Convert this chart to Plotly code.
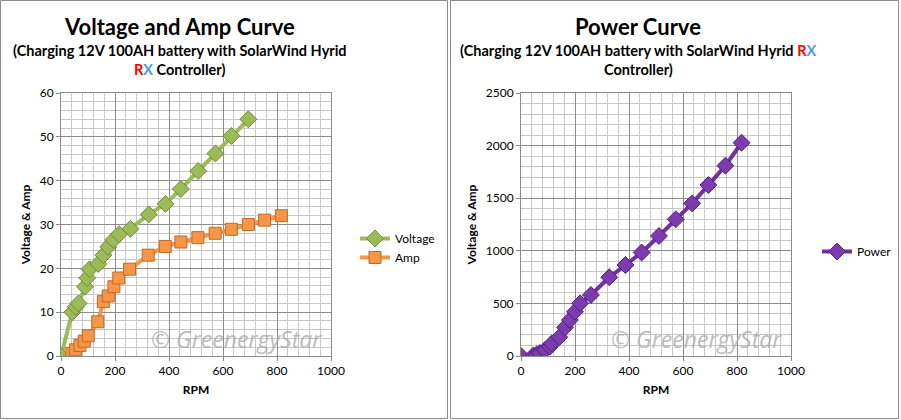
import plotly.graph_objects as go

# ---- data ----
rpm_volt = [0, 42, 55, 65, 89, 97, 106, 138, 157, 175, 194, 215, 257, 325, 387, 444, 508, 572, 631, 694]
voltage = [0, 10.0, 11.2, 12.0, 15.8, 17.8, 19.8, 21.0, 23.0, 24.9, 26.5, 27.8, 29.0, 32.3, 34.7, 38.1, 42.2, 46.2, 50.2, 54.0]
rpm_amp = [40, 54, 70, 86, 101, 136, 157, 175, 196, 214, 254, 323, 386, 444, 507, 571, 631, 694, 754, 816]
amp = [0.6, 1.4, 2.4, 3.4, 4.6, 7.8, 12.4, 13.7, 15.8, 17.8, 19.8, 23.0, 25.0, 26.0, 27.0, 28.0, 28.9, 30.0, 31.0, 32.0]
rpm_power = [0, 46, 58, 70, 89, 107, 114, 142, 163, 181, 200, 219, 259, 327, 387, 447, 511, 573, 634, 694, 757, 817]
power = [0, 5, 15, 28, 57, 88, 120, 178, 272, 342, 421, 501, 580, 748, 865, 984, 1141, 1299, 1451, 1625, 1809, 2027]
x_ticks = [0, 200, 400, 600, 800, 1000]
y1_ticks = [0, 10, 20, 30, 40, 50, 60]
y2_ticks = [0, 500, 1000, 1500, 2000, 2500]

W, H = 901, 420
FONT = "Lato"

fig = go.Figure()
fig.add_trace(go.Scatter(
    x=rpm_volt, y=voltage, name="Voltage", mode="lines+markers",
    line=dict(color="#9bbb59", width=4),
    marker=dict(symbol="diamond", size=13, color="#9bbb59", line=dict(color="#6f8a3a", width=1)),
    xaxis="x", yaxis="y", legend="legend"))
fig.add_trace(go.Scatter(
    x=rpm_amp, y=amp, name="Amp", mode="lines+markers",
    line=dict(color="#f79646", width=4),
    marker=dict(symbol="square", size=12, color="#f79646", line=dict(color="#c0682a", width=1)),
    xaxis="x", yaxis="y", legend="legend"))
fig.add_trace(go.Scatter(
    x=rpm_power, y=power, name="Power", mode="lines+markers",
    line=dict(color="#7030a0", width=4),
    marker=dict(symbol="diamond", size=13, color="#7d3bb0", line=dict(color="#50207a", width=1)),
    xaxis="x2", yaxis="y2", legend="legend2"))

def px(x):
    return x / W

def py(y):
    return 1 - y / H

grid_major = "#8c8c8c"
grid_minor = "#c8c8c8"

def xaxis(domain, anchor):
    return dict(domain=domain, anchor=anchor, range=[0, 1000], tickvals=x_ticks,
                showgrid=True, gridcolor=grid_major, gridwidth=1, automargin=False,
                minor=dict(dtick=40, showgrid=True, gridcolor=grid_minor, ticks=""),
                showline=True, linecolor=grid_major, mirror=True, ticks="outside", ticklen=4,
                tickcolor=grid_major, zeroline=False,
                tickfont=dict(family=FONT, size=12, color="#000"),
                title=dict(text="<b>RPM</b>", font=dict(family=FONT, size=12, color="#000"), standoff=8))

def yaxis(domain, anchor, rng, ticks, minor):
    return dict(domain=domain, anchor=anchor, range=rng, tickvals=ticks,
                showgrid=True, gridcolor=grid_major, gridwidth=1, automargin=False,
                minor=dict(dtick=minor, showgrid=True, gridcolor=grid_minor, ticks=""),
                showline=True, linecolor=grid_major, mirror=True, ticks="outside", ticklen=4,
                tickcolor=grid_major, zeroline=False,
                tickfont=dict(family=FONT, size=12, color="#000"),
                title=dict(text="<b>Voltage & Amp</b>", font=dict(family=FONT, size=12, color="#000"), standoff=6))

ydom = [py(356), py(93)]
fig.update_layout(
    width=W, height=H, margin=dict(l=0, r=0, t=0, b=0, autoexpand=False),
    paper_bgcolor="white", plot_bgcolor="white",
    xaxis=xaxis([px(61), px(331)], "y"),
    yaxis=yaxis(ydom, "x", [0, 60], y1_ticks, 2),
    xaxis2=xaxis([px(521), px(791)], "y2"),
    yaxis2=yaxis(ydom, "x2", [0, 2500], y2_ticks, 100),
    legend=dict(x=px(355), y=py(224), xanchor="left", yanchor="top",
                font=dict(family=FONT, size=12, color="#000"),
                bgcolor="rgba(0,0,0,0)", itemwidth=30),
    legend2=dict(x=px(817), y=py(237), xanchor="left", yanchor="top",
                 font=dict(family=FONT, size=12, color="#000"),
                 bgcolor="rgba(0,0,0,0)", itemwidth=30),
    showlegend=True,
)

RX = "<span style='color:#ff0000'>R</span><span style='color:#4f9ae8'>X</span>"
ann = []
def add_text(x, y, text, size, bold=True, color="#000"):
    ann.append(dict(x=px(x), y=py(y), xref="paper", yref="paper", xanchor="center", yanchor="middle",
                    text=(f"<b>{text}</b>" if bold else text), showarrow=False,
                    font=dict(family=FONT, size=size, color=color)))

add_text(179, 26, "Voltage and Amp Curve", 22)
add_text(180, 50, "(Charging 12V 100AH battery with SolarWind Hyrid", 14.5)
add_text(179, 70, RX + " Controller)", 14.5)
add_text(638, 26, "Power Curve", 22)
add_text(638, 50, "(Charging 12V 100AH battery with SolarWind Hyrid " + RX, 14.5)
add_text(638, 70, "Controller)", 14.5)

for cx in (236, 696):
    ann.append(dict(x=px(cx), y=py(339), xref="paper", yref="paper", xanchor="center", yanchor="middle",
                    text="<i>© GreenergyStar</i>", showarrow=False,
                    font=dict(family="Open Sans", size=23, color="rgba(175,175,175,0.85)")))
fig.update_layout(annotations=ann)

shapes = []
for x0, x1 in ((0.5, 447.5), (450.5, 898.5)):
    shapes.append(dict(type="rect", xref="paper", yref="paper",
                       x0=px(x0), x1=px(x1), y0=py(418.5), y1=py(0.5),
                       line=dict(color="#8c8c8c", width=1), fillcolor="rgba(0,0,0,0)", layer="below"))
fig.update_layout(shapes=shapes)

fig.write_html("out.html", config={"displayModeBar": False},
               post_script="document.body.style.margin='0px';document.body.style.overflow='hidden';")
